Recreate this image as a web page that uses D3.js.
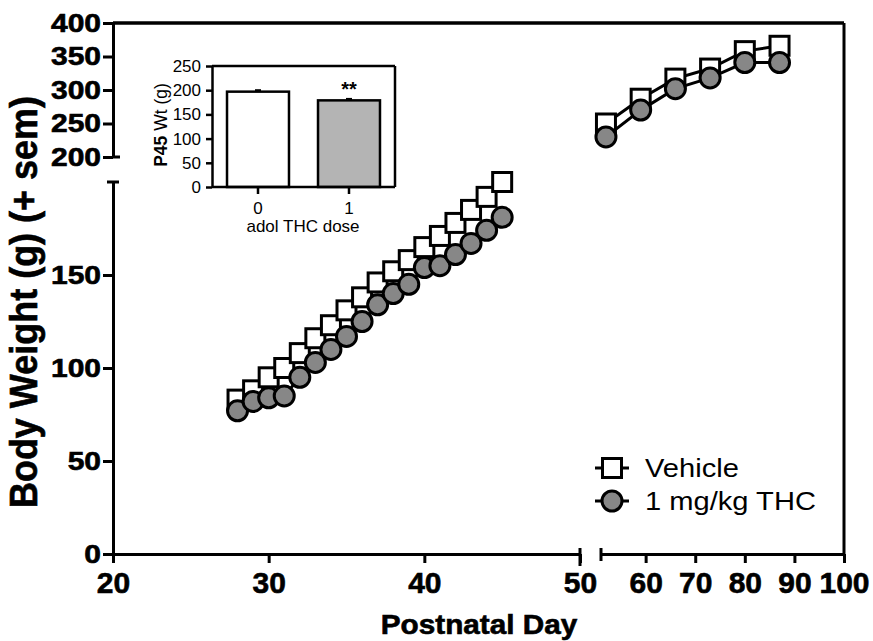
<!DOCTYPE html>
<html>
<head>
<meta charset="utf-8">
<script src="https://d3js.org/d3.v7.min.js"></script>
<style>
  body { margin: 0; background: #fff; }
  svg { font-family: "Liberation Sans", Arial, sans-serif; }
  .eixo path, .eixo line { stroke: #000; stroke-width: 3; }
  .inset path, .inset line { stroke: #000; stroke-width: 2.5; }
  .negrito { font-weight: bold; stroke: #000; stroke-width: 0.6px; }
</style>
</head>
<body>
<svg width="873" height="641" id="grafico"></svg>
<script>
// dados
var diasA = [28, 29, 30, 31, 32, 33, 34, 35, 36, 37, 38, 39, 40, 41, 42, 43, 44, 45];
var veiculoA = [83, 88, 95, 100, 108, 116, 123, 131, 138, 146, 152, 158, 165, 171, 178, 185, 192, 200];
var thcA = [77, 82, 84, 85, 95, 103, 110, 117, 125, 134, 140, 145, 154, 155, 161, 167, 174, 181];
var diasB = [52, 59, 66, 73, 80, 87];
var veiculoB = [250, 287, 317, 332, 358, 366];
var thcB = [230, 270, 302, 318, 341, 341];

var doses = ["0", "1"];
var p45 = [197, 179];
var p45sem = [3, 3];

var ticksYbaixo = [0, 50, 100, 150];
var ticksYcima = [200, 250, 300, 350, 400];
var ticksXa = [20, 30, 40, 50];
var ticksXb = [60, 70, 80, 90, 100];
var ticksInset = [0, 50, 100, 150, 200, 250];
var nomes = ["Vehicle", "1 mg/kg THC"];

const svg = d3.select("#grafico");

// escalas (eixos quebrados)
var xA = d3.scaleLinear().domain([20, 50]).range([113, 580]);
var xB = d3.scaleLinear().domain([51, 100]).range([601, 844]);
var yA = d3.scaleLinear().domain([0, 200]).range([554, 182]);
var yB = d3.scaleLinear().domain([200, 400]).range([157, 23]);

var sx = 1.2; // texto do original esta um pouco esticado na horizontal

// eixo y, parte de baixo
var gyA = svg.append("g").attr("class", "eixo").attr("transform", "translate(113,0)")
  .call(d3.axisLeft(yA).tickValues(ticksYbaixo).tickSize(10).tickSizeOuter(0));
// eixo y, parte de cima
var gyB = svg.append("g").attr("class", "eixo").attr("transform", "translate(113,0)")
  .call(d3.axisLeft(yB).tickValues(ticksYcima).tickSize(10).tickSizeOuter(0));

[gyA, gyB].forEach(g => {
  g.selectAll("text")
    .attr("x", -12 / sx)
    .attr("transform", "scale(" + sx + ",1)")
    .attr("class", "negrito")
    .style("font-size", "25px").attr("fill", "#000");
});

// marcas da quebra no eixo y
svg.append("line").attr("x1", 107).attr("x2", 119).attr("y1", yA(200)).attr("y2", yA(200))
  .attr("stroke", "#000").attr("stroke-width", 3);
svg.append("line").attr("x1", 113).attr("x2", 120).attr("y1", yB(200)).attr("y2", yB(200))
  .attr("stroke", "#000").attr("stroke-width", 3);

// eixo x
var gxA = svg.append("g").attr("class", "eixo").attr("transform", "translate(0," + yA(0) + ")")
  .call(d3.axisBottom(xA).tickValues(ticksXa).tickSize(9).tickSizeOuter(0));
var gxB = svg.append("g").attr("class", "eixo").attr("transform", "translate(0," + yA(0) + ")")
  .call(d3.axisBottom(xB).tickValues(ticksXb).tickSize(9).tickSizeOuter(0));
[gxA, gxB].forEach(g => {
  g.selectAll("text").attr("y", 39).attr("dy", null).attr("class", "negrito")
    .style("font-size", "30px").attr("fill", "#000");
});
svg.append("line").attr("x1", xA(50)).attr("x2", xA(50)).attr("y1", yA(0) - 6).attr("y2", yA(0) + 12)
  .attr("stroke", "#000").attr("stroke-width", 3);
svg.append("line").attr("x1", xB(51)).attr("x2", xB(51)).attr("y1", yA(0) - 6).attr("y2", yA(0) + 7)
  .attr("stroke", "#000").attr("stroke-width", 3);

// moldura de cima e da direita
svg.append("line").attr("x1", xA(20)).attr("x2", xB(100)).attr("y1", yB(400)).attr("y2", yB(400))
  .attr("stroke", "#000").attr("stroke-width", 3.5);
svg.append("line").attr("x1", xB(100)).attr("x2", xB(100)).attr("y1", yB(400)).attr("y2", yA(0))
  .attr("stroke", "#000").attr("stroke-width", 3);

// titulos
svg.append("text").attr("transform", "translate(37,302) scale(1.1,1) rotate(-90)")
  .attr("text-anchor", "middle").attr("class", "negrito").style("font-size", "36px")
  .text("Body Weight (g) (+ sem)");
svg.append("text").attr("transform", "translate(479,634) scale(1.1,1)")
  .attr("text-anchor", "middle").attr("class", "negrito").style("font-size", "27px")
  .text("Postnatal Day");

// series
var linha = d3.line().x(d => d.x).y(d => d.y);
function pontos(dias, vals, x, y) {
  return dias.map((d, i) => ({ x: x(d), y: y(vals[i]) }));
}
var veicA = pontos(diasA, veiculoA, xA, yA), veicB = pontos(diasB, veiculoB, xB, yB);
var tA = pontos(diasA, thcA, xA, yA), tB = pontos(diasB, thcB, xB, yB);

var lado = 19, raio = 10;

[veicA, veicB].forEach(p => {
  svg.append("path").attr("d", linha(p)).attr("fill", "none").attr("stroke", "#000").attr("stroke-width", 3);
});
[veicA, veicB].forEach(p => {
  svg.append("g").selectAll("rect").data(p).enter().append("rect")
    .attr("x", d => d.x - lado / 2).attr("y", d => d.y - lado / 2)
    .attr("width", lado).attr("height", lado)
    .attr("fill", "#fff").attr("stroke", "#000").attr("stroke-width", 3);
});
[tA, tB].forEach(p => {
  svg.append("path").attr("d", linha(p)).attr("fill", "none").attr("stroke", "#000").attr("stroke-width", 3);
});
[tA, tB].forEach(p => {
  svg.append("g").selectAll("circle").data(p).enter().append("circle")
    .attr("cx", d => d.x).attr("cy", d => d.y).attr("r", raio)
    .attr("fill", "#878787").attr("stroke", "#000").attr("stroke-width", 3);
});

// legenda
var leg = svg.append("g").selectAll("g").data(nomes).enter().append("g")
  .attr("transform", (d, i) => "translate(612," + (468 + i * 33) + ")");
leg.append("line").attr("x1", -17).attr("x2", 17).attr("stroke", "#000").attr("stroke-width", 3);
leg.filter((d, i) => i === 0).append("rect")
  .attr("x", -lado / 2).attr("y", -lado / 2).attr("width", lado).attr("height", lado)
  .attr("fill", "#fff").attr("stroke", "#000").attr("stroke-width", 3);
leg.filter((d, i) => i === 1).append("circle").attr("r", raio)
  .attr("fill", "#878787").attr("stroke", "#000").attr("stroke-width", 3);
leg.append("text").attr("transform", "translate(33,9) scale(1.12,1)")
  .style("font-size", "26px").text(d => d);

// INSET
var xi = d3.scaleBand().domain(doses).range([212, 395]).paddingInner(0.319).paddingOuter(0.165);
var yi = d3.scaleLinear().domain([0, 250]).range([187, 66]);

var inset = svg.append("g");
inset.selectAll("rect").data(p45).enter().append("rect")
  .attr("x", (d, i) => xi(doses[i])).attr("width", xi.bandwidth())
  .attr("y", d => yi(d)).attr("height", d => yi(0) - yi(d))
  .attr("fill", (d, i) => i === 0 ? "#fff" : "#b4b4b4")
  .attr("stroke", "#000").attr("stroke-width", 2.5);
inset.selectAll("line.erro").data(p45).enter().append("line").attr("class", "erro")
  .attr("x1", (d, i) => xi(doses[i]) + xi.bandwidth() / 2).attr("x2", (d, i) => xi(doses[i]) + xi.bandwidth() / 2)
  .attr("y1", d => yi(d)).attr("y2", (d, i) => yi(d + p45sem[i]))
  .attr("stroke", "#000").attr("stroke-width", 2);
inset.selectAll("line.cap").data(p45).enter().append("line").attr("class", "cap")
  .attr("x1", (d, i) => xi(doses[i]) + xi.bandwidth() / 2 - 3).attr("x2", (d, i) => xi(doses[i]) + xi.bandwidth() / 2 + 3)
  .attr("y1", (d, i) => yi(d + p45sem[i])).attr("y2", (d, i) => yi(d + p45sem[i]))
  .attr("stroke", "#000").attr("stroke-width", 2);
inset.append("text").attr("x", xi(doses[1]) + xi.bandwidth() / 2).attr("y", yi(p45[1] + p45sem[1]) - 3)
  .attr("text-anchor", "middle").style("font-size", "20px").style("font-weight", "bold").text("**");

var giy = inset.append("g").attr("class", "inset").attr("transform", "translate(212,0)")
  .call(d3.axisLeft(yi).tickValues(ticksInset).tickSize(6).tickSizeOuter(0));
giy.selectAll("text").attr("x", -11).style("font-size", "17px").attr("fill", "#000");
var gix = inset.append("g").attr("class", "inset").attr("transform", "translate(0,187)")
  .call(d3.axisBottom(xi).tickSize(7).tickSizeOuter(0));
gix.select(".domain").attr("d", "M212,0H395");
gix.selectAll("text").attr("y", 27).attr("dy", null).style("font-size", "17px").attr("fill", "#000");
inset.append("line").attr("x1", 212).attr("x2", 395).attr("y1", yi(250)).attr("y2", yi(250))
  .attr("stroke", "#000").attr("stroke-width", 2.5);
inset.append("line").attr("x1", 395).attr("x2", 395).attr("y1", yi(250)).attr("y2", yi(0))
  .attr("stroke", "#000").attr("stroke-width", 2.5);
inset.append("text").attr("x", 303).attr("y", 232).attr("text-anchor", "middle")
  .style("font-size", "17px").text("adol THC dose");
var rot = inset.append("text").attr("transform", "translate(167,125) rotate(-90)")
  .attr("text-anchor", "middle").style("font-size", "17.5px");
rot.append("tspan").style("font-weight", "bold").text("P45");
rot.append("tspan").text(" Wt (g)");
</script>
</body>
</html>
